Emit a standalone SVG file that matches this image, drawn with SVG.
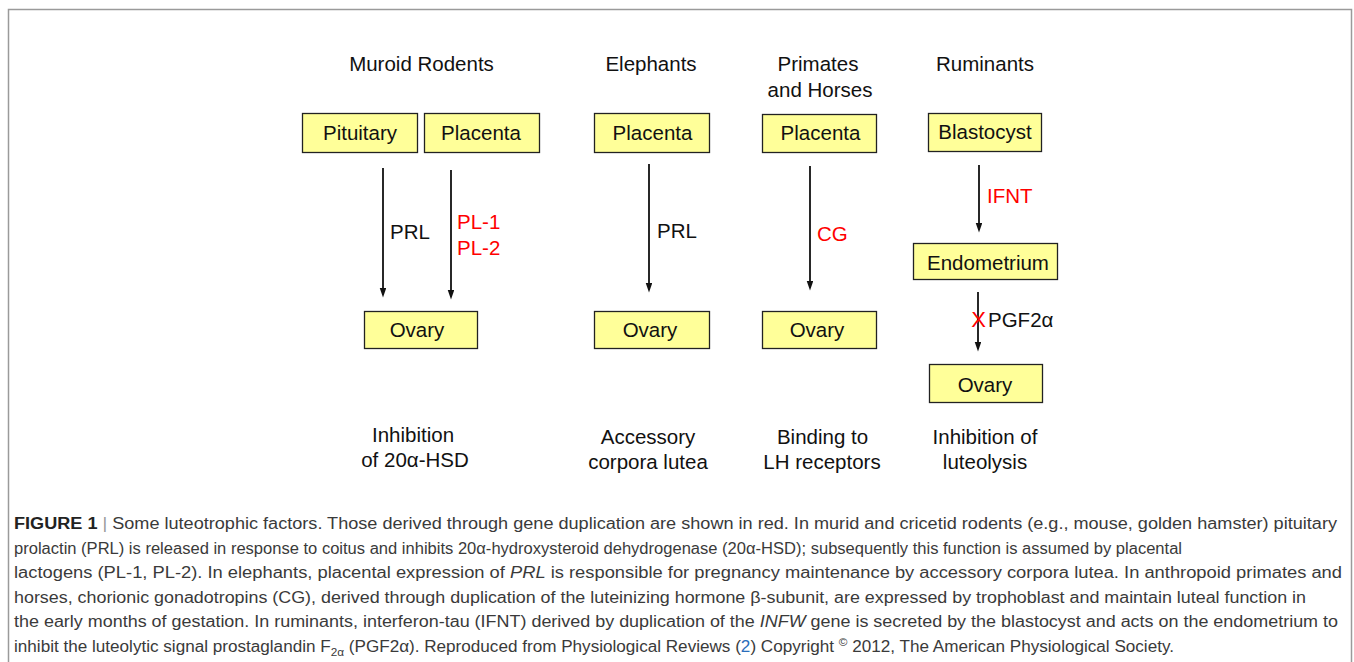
<svg xmlns="http://www.w3.org/2000/svg" width="1354" height="662" viewBox="0 0 1354 662">
<defs>
<style>
.lbl{font-family:"Liberation Sans",Arial,sans-serif;font-size:20.5px;fill:#111}
.mid{text-anchor:middle}
.red{fill:#ff0000}
.box{fill:#ffff99;stroke:#222;stroke-width:1.3}
.arr{stroke:#111;stroke-width:1.8;fill:none;marker-end:url(#ah)}
.cap{font-family:"Liberation Sans",Arial,sans-serif;font-size:16px;fill:#3a3a3a}
</style>
<marker id="ah" markerUnits="userSpaceOnUse" markerWidth="10" markerHeight="7" refX="3" refY="3.25" orient="auto">
<path d="M0,0 L9.5,3.25 L0,6.5 z" fill="#111"/>
</marker>
</defs>
<rect width="1354" height="662" fill="#fff"/>
<rect x="8.5" y="9.5" width="1343" height="700" fill="none" stroke="#9a9a9a" stroke-width="1.5"/>

<g id="titles" class="lbl">
<text x="421.5" y="71" class="lbl mid">Muroid Rodents</text>
<text x="651" y="71" class="lbl mid">Elephants</text>
<text x="818" y="71" class="lbl mid">Primates</text>
<text x="820" y="97" class="lbl mid">and Horses</text>
<text x="985" y="71" class="lbl mid">Ruminants</text>
</g>

<g id="connectors">
<line class="arr" x1="383" y1="168" x2="383" y2="291"/>
<line class="arr" x1="451" y1="170" x2="451" y2="293"/>
<line class="arr" x1="649" y1="164" x2="649" y2="286"/>
<line class="arr" x1="810" y1="166" x2="810" y2="284"/>
<line class="arr" x1="979" y1="165" x2="979" y2="226"/>
<line class="arr" x1="978" y1="292" x2="978" y2="345"/>
<text x="390" y="239" class="lbl">PRL</text>
<text x="457" y="229" class="lbl red">PL-1</text>
<text x="457" y="255" class="lbl red">PL-2</text>
<text x="657" y="238" class="lbl">PRL</text>
<text x="817" y="241" class="lbl red">CG</text>
<text x="987" y="203" class="lbl red">IFNT</text>
<text x="978.5" y="326.5" class="lbl mid red" style="font-size:22px">X</text>
<text x="988" y="327" class="lbl">PGF2α</text>
</g>

<g id="pituitary"><rect class="box" x="302.5" y="113.5" width="115" height="39"/><text x="360" y="139.5" class="lbl mid">Pituitary</text></g>
<g id="placenta-rodent"><rect class="box" x="424.5" y="113.5" width="115" height="39"/><text x="481" y="139.5" class="lbl mid">Placenta</text></g>
<g id="ovary-rodent"><rect class="box" x="364.5" y="311.5" width="113" height="37"/><text x="417" y="336.5" class="lbl mid">Ovary</text></g>

<g id="placenta-elephant"><rect class="box" x="594.5" y="113.5" width="115" height="39"/><text x="652.5" y="139.5" class="lbl mid">Placenta</text></g>
<g id="ovary-elephant"><rect class="box" x="594.5" y="311.5" width="115" height="37"/><text x="650" y="337" class="lbl mid">Ovary</text></g>

<g id="placenta-primate"><rect class="box" x="762.5" y="114.5" width="114" height="38"/><text x="820.5" y="140" class="lbl mid">Placenta</text></g>
<g id="ovary-primate"><rect class="box" x="762.5" y="311.5" width="114" height="37"/><text x="817" y="337" class="lbl mid">Ovary</text></g>

<g id="blastocyst"><rect class="box" x="928.5" y="113.5" width="113" height="38"/><text x="985" y="139" class="lbl mid">Blastocyst</text></g>
<g id="endometrium"><rect class="box" x="913.5" y="243.5" width="144" height="36"/><text x="988" y="269.5" class="lbl mid">Endometrium</text></g>
<g id="ovary-ruminant"><rect class="box" x="929.5" y="364.5" width="113" height="38"/><text x="985" y="391.5" class="lbl mid">Ovary</text></g>

<g id="outcomes">
<text x="413" y="441.5" class="lbl mid">Inhibition</text>
<text x="415" y="466.5" class="lbl mid">of 20α-HSD</text>
<text x="648" y="443.5" class="lbl mid">Accessory</text>
<text x="648" y="468.5" class="lbl mid">corpora lutea</text>
<text x="822.5" y="443.5" class="lbl mid">Binding to</text>
<text x="822" y="468.5" class="lbl mid">LH receptors</text>
<text x="985" y="443.5" class="lbl mid">Inhibition of</text>
<text x="985" y="468.5" class="lbl mid">luteolysis</text>
</g>

<g id="caption" class="cap">
<text x="14" y="529" class="cap" textLength="1323" lengthAdjust="spacingAndGlyphs"><tspan font-weight="bold" fill="#222">FIGURE 1</tspan><tspan fill="#999"> | </tspan>Some luteotrophic factors. Those derived through gene duplication are shown in red. In murid and cricetid rodents (e.g., mouse, golden hamster) pituitary</text>
<text x="14" y="553.5" class="cap" textLength="1168" lengthAdjust="spacingAndGlyphs">prolactin (PRL) is released in response to coitus and inhibits 20α-hydroxysteroid dehydrogenase (20α-HSD); subsequently this function is assumed by placental</text>
<text x="14" y="578" class="cap" textLength="1328" lengthAdjust="spacingAndGlyphs">lactogens (PL-1, PL-2). In elephants, placental expression of <tspan font-style="italic">PRL</tspan> is responsible for pregnancy maintenance by accessory corpora lutea. In anthropoid primates and</text>
<text x="14" y="602.5" class="cap" textLength="1292" lengthAdjust="spacingAndGlyphs">horses, chorionic gonadotropins (CG), derived through duplication of the luteinizing hormone β-subunit, are expressed by trophoblast and maintain luteal function in</text>
<text x="14" y="627" class="cap" textLength="1324" lengthAdjust="spacingAndGlyphs">the early months of gestation. In ruminants, interferon-tau (IFNT) derived by duplication of the <tspan font-style="italic">INFW</tspan> gene is secreted by the blastocyst and acts on the endometrium to</text>
<text x="14" y="651.5" class="cap" textLength="1160" lengthAdjust="spacingAndGlyphs">inhibit the luteolytic signal prostaglandin F<tspan font-size="11" dy="4">2α</tspan><tspan dy="-4"> (PGF2α). Reproduced from Physiological Reviews (</tspan><tspan fill="#2a6ebb">2</tspan>) Copyright <tspan font-size="11" dy="-6">©</tspan><tspan dy="6"> 2012, The American Physiological Society.</tspan></text>
</g>
</svg>
